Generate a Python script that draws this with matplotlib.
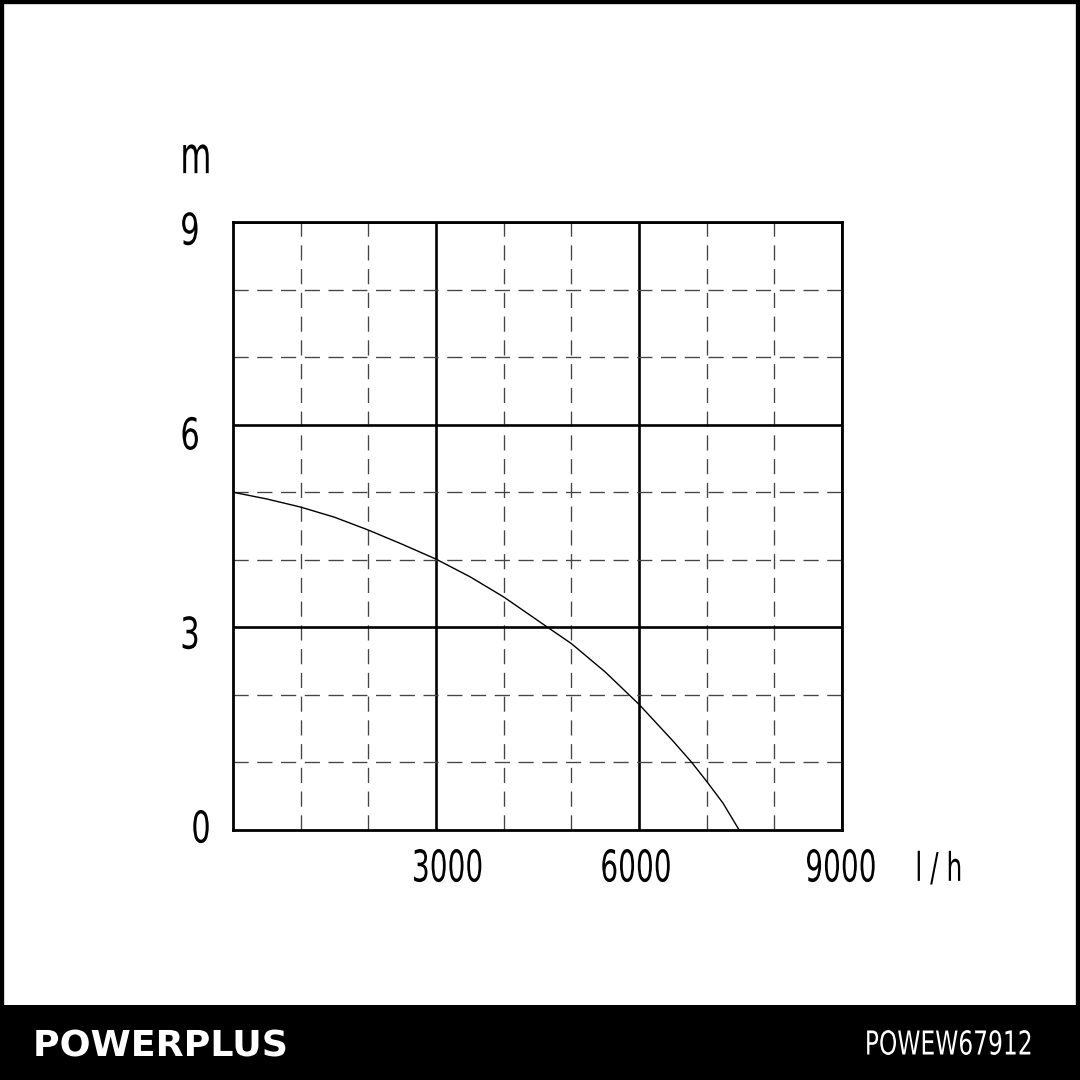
import matplotlib
matplotlib.use("Agg")
import matplotlib.pyplot as plt
from matplotlib.patches import Rectangle
import matplotlib.transforms as mtransforms
from matplotlib.patheffects import AbstractPathEffect

# ---- data ----
flow_lh = [0, 500, 1000, 1500, 2000, 2500, 3000, 3500, 4000, 4650, 5000,
           5500, 6000, 6500, 6780, 7000, 7240, 7480]
head_m = [5.0, 4.90, 4.78, 4.63, 4.44, 4.23, 4.01, 3.75, 3.45, 3.0, 2.76,
          2.34, 1.86, 1.32, 1.0, 0.72, 0.40, 0.0]
x_major = [3000, 6000, 9000]
x_minor = [1000, 2000, 4000, 5000, 7000, 8000]
y_major = [3, 6, 9]
y_minor = [1, 2, 4, 5, 7, 8]
x_ticks = [3000, 6000, 9000]
x_labels = ["3000", "6000", "9000"]
y_ticks = [0, 3, 6, 9]
y_labels = ["0", "3", "6", "9"]
brand = "POWERPLUS"
model = "POWEW67912"
x_unit = "l / h"
y_unit = "m"


class HScale(AbstractPathEffect):
    """Narrow the glyph outlines horizontally (condensed look)."""

    def __init__(self, sx, anchor="center"):
        super().__init__()
        self.sx = sx
        self.anchor = anchor

    def draw_path(self, renderer, gc, tpath, affine, rgbFace=None):
        ext = tpath.get_extents(affine)
        if self.anchor == "left":
            x0 = ext.x0
        elif self.anchor == "right":
            x0 = ext.x1
        else:
            x0 = 0.5 * (ext.x0 + ext.x1)
        aff = affine + mtransforms.Affine2D().translate(-x0, 0).scale(self.sx, 1).translate(x0, 0)
        renderer.draw_path(gc, tpath, aff, rgbFace)


FONT = ["DejaVu Sans"]
COND = [HScale(0.64)]

fig = plt.figure(figsize=(10.8, 10.8), dpi=100)
fig.patch.set_facecolor("white")
ax = fig.add_axes([233 / 1080, 1 - 830 / 1080, 609 / 1080, 608 / 1080])
ax.set_xlim(0, 9000)
ax.set_ylim(0, 9)

ax.set_xticks(x_major)
ax.set_xticks(x_minor, minor=True)
ax.set_yticks(y_major)
ax.set_yticks(y_minor, minor=True)
ax.grid(which="major", color="black", lw=1.9)
ax.grid(which="minor", color="#444444", lw=0.95, ls=(0, (11.5, 6.5)))
ax.tick_params(which="both", length=0, labelleft=False, labelbottom=False)
for s in ax.spines.values():
    s.set_linewidth(2.0)
    s.set_color("black")
    s.set_zorder(5)

ax.plot(flow_lh, head_m, color="black", lw=1.0, zorder=4,
        solid_joinstyle="round", solid_capstyle="butt")

# x labels (slight per-label nudges as in the original)
x_nudge = [170, -45, -15]
for v, lab, dxv in zip(x_ticks, x_labels, x_nudge):
    ax.text(v + dxv, -0.577, lab, ha="center", va="center",
            fontfamily=FONT, fontsize=31.5, path_effects=COND)

# y labels
trans = mtransforms.blended_transform_factory(ax.transAxes, ax.transData)
y_pos = {0: (-0.0525, 0.0), 3: (-0.0706, 2.87), 6: (-0.0706, 5.82), 9: (-0.0706, 8.85)}
for v, lab in zip(y_ticks, y_labels):
    xf, yv = y_pos[v]
    ax.text(xf, yv, lab, transform=trans, ha="center", va="center",
            fontfamily=FONT, fontsize=31.5, path_effects=[HScale(0.7)])
ax.text(-0.061, 9.93, y_unit, transform=trans, ha="center", va="center",
        fontfamily=FONT, fontsize=37, path_effects=[HScale(0.62)])
ax.text(1.159, -0.59, x_unit, transform=trans, ha="center", va="center",
        fontfamily=FONT, fontsize=28.5, path_effects=[HScale(0.63)])

# frame and footer
fig.add_artist(Rectangle((0, 0), 1, 1, transform=fig.transFigure, fill=False,
                         edgecolor="black", lw=6, zorder=10))
fig.add_artist(Rectangle((0, 0), 1, 75 / 1080, transform=fig.transFigure,
                         facecolor="black", edgecolor="none", zorder=9))
fig.text(33 / 1080, 1 - 1046 / 1080, brand, color="white", fontweight="bold",
         fontfamily=FONT, fontsize=25.7, ha="left", va="center", zorder=11,
         path_effects=[HScale(1.02, "left")])
fig.text(1033 / 1080, 1 - 1045 / 1080, model, color="white",
         fontfamily=FONT, fontsize=23.7, ha="right", va="center", zorder=11,
         path_effects=[HScale(0.71, "right")])

fig.savefig("out.png", dpi=100, facecolor="white")
